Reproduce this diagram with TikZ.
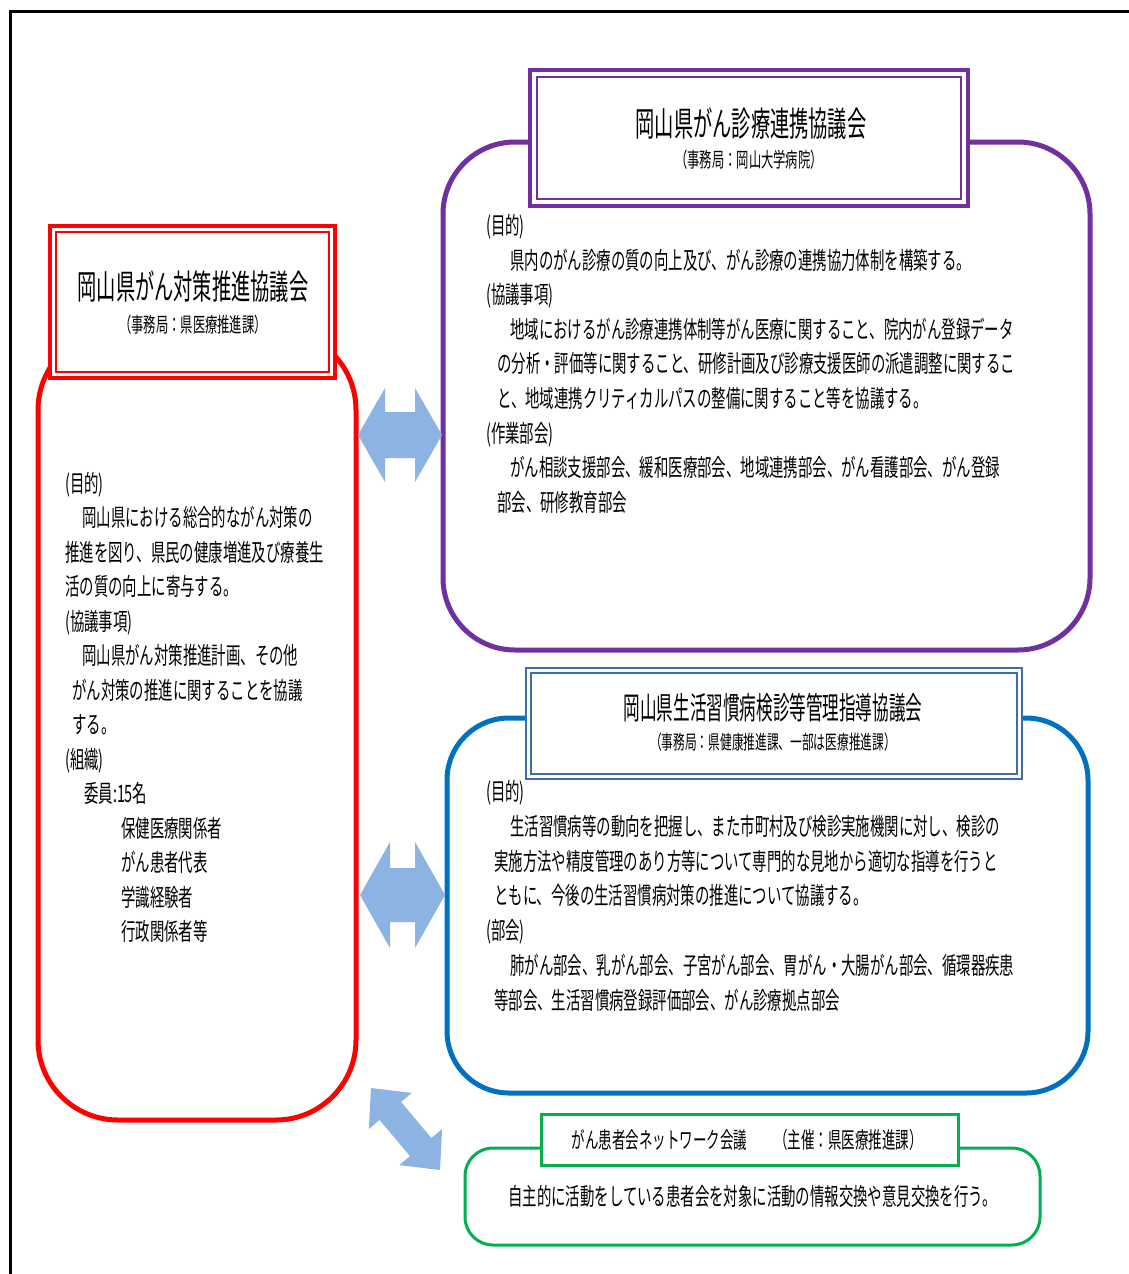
\documentclass[tikz,border=0pt]{standalone}
\usepackage{fontspec}
\usetikzlibrary{calc}
\newfontfamily\jbody[FakeStretch=0.6]{Noto Sans CJK JP}
\newfontfamily\jtitle[FakeStretch=0.566]{Noto Sans CJK JP}
\newfontfamily\jbtitle[FakeStretch=0.535]{Noto Sans CJK JP}
\definecolor{cred}{HTML}{FF0000}
\definecolor{cpurple}{HTML}{7030A0}
\definecolor{cblue}{HTML}{0070C0}
\definecolor{cbluehead}{HTML}{416BA9}
\definecolor{cgreen}{HTML}{00B050}
\definecolor{carrow}{HTML}{8DB3E2}
\newcommand\blockarrow[5]{%
 \fill[carrow] (#1) -- ($(#1)!#3!(#2)!#4!90:(#2)$) -- ($(#1)!#3!(#2)!#5!90:(#2)$)
  -- ($(#2)!#3!(#1)!#5!-90:(#1)$) -- ($(#2)!#3!(#1)!#4!-90:(#1)$) -- (#2)
  -- ($(#2)!#3!(#1)!#4!90:(#1)$) -- ($(#2)!#3!(#1)!#5!90:(#1)$)
  -- ($(#1)!#3!(#2)!#5!-90:(#2)$) -- ($(#1)!#3!(#2)!#4!-90:(#2)$) -- cycle;}
\tikzset{
 bodybox/.style={draw, line width=5pt, rounded corners=#1, inner sep=0pt, outer sep=0pt},
 headbox/.style={draw, fill=white, inner sep=0pt, outer sep=0pt},
 titletext/.style={inner sep=0pt, font=\jtitle\fontsize{34}{40}\selectfont},
 btitletext/.style={inner sep=0pt, font=\jbtitle\fontsize{31}{36}\selectfont},
 subtext/.style={inner sep=0pt, font=\jbody\fontsize{#1}{22}\selectfont},
 paratext/.style={inner sep=0pt, anchor=north west, align=left, font=\jbody\fontsize{24}{#1}\selectfont},
 onetext/.style={inner sep=0pt, font=\jbody\fontsize{24}{28}\selectfont},
}
\begin{document}
\begin{tikzpicture}[x=1pt,y=-1pt]
\useasboundingbox (0,0) rectangle (1129,1274);
\fill[white] (0,0) rectangle (1129,1274);
% outer frame
\draw[line width=3pt] (1129,11) -- (10,11) -- (10,1274);

% bodies
\node[bodybox=80pt, draw=cred, minimum width=318pt, minimum height=790pt] (redbody) at (197,725) {};
\node[bodybox=72pt, draw=cpurple, minimum width=647pt, minimum height=508pt] (purplebody) at (766.5,396) {};
\node[bodybox=62pt, draw=cblue, minimum width=641pt, minimum height=375pt] (bluebody) at (767.5,905.5) {};
\node[bodybox=28pt, draw=cgreen, line width=3pt, minimum width=575pt, minimum height=97pt] (greenbody) at (752.5,1196.5) {};

% headers
\node[headbox, draw=cred, line width=4pt, minimum width=285pt, minimum height=152pt] (redhead) at (192.5,302) {};
\draw[cred, line width=1.5pt] ([shift={(6,6)}]redhead.north west) rectangle ([shift={(-6,-6)}]redhead.south east);
\node[headbox, draw=cpurple, line width=4pt, minimum width=438pt, minimum height=136pt] (purplehead) at (749,138) {};
\draw[cpurple, line width=2pt] ([shift={(7,7)}]purplehead.north west) rectangle ([shift={(-7,-7)}]purplehead.south east);
\node[headbox, draw=cbluehead, line width=2.5pt, minimum width=496pt, minimum height=111pt] (bluehead) at (774,723.5) {};
\draw[cbluehead, line width=1.2pt] ([shift={(5,5)}]bluehead.north west) rectangle ([shift={(-5,-5)}]bluehead.south east);
\node[headbox, draw=cgreen, line width=3pt, minimum width=417pt, minimum height=51pt] (greenhead) at (749.5,1139.5) {};

% header texts
\node[titletext] (redtitle) at (193,287) {岡山県がん対策推進協議会};
\node[subtext=20.5] (redsub) at (193,325) {（事務局：県医療推進課）};
\node[titletext] (purpletitle) at (751,124) {岡山県がん診療連携協議会};
\node[subtext=20.5] (purplesub) at (749,160) {（事務局：岡山大学病院）};
\node[btitletext] (bluetitle) at (773,708) {岡山県生活習慣病検診等管理指導協議会};
\node[subtext=19.5] (bluesub) at (773,742) {（事務局：県健康推進課、一部は医療推進課）};
\node[inner sep=0pt, font=\jbody\fontsize{22.5}{26}\selectfont] (greentitle) at (747,1140) {がん患者会ネットワーク会議　　（主催：県医療推進課）};

% body texts
\node[paratext=34.5pt] (redtext) at (65,472) {(目的)\\
\hspace*{17pt}岡山県における総合的ながん対策の\\
推進を図り、県民の健康増進及び療養生\\
活の質の向上に寄与する。\\
(協議事項)\\
\hspace*{17pt}岡山県がん対策推進計画、その他\\
\hspace*{7pt}がん対策の推進に関することを協議\\
\hspace*{7pt}する。\\
(組織)\\
\hspace*{19pt}委員:15名\\
\hspace*{56pt}保健医療関係者\\
\hspace*{56pt}がん患者代表\\
\hspace*{56pt}学識経験者\\
\hspace*{56pt}行政関係者等};

\node[paratext=34.6pt] (purpletext) at (486,214) {(目的)\\
\hspace*{24pt}県内のがん診療の質の向上及び、がん診療の連携協力体制を構築する。\\
(協議事項)\\
\hspace*{24pt}地域におけるがん診療連携体制等がん医療に関すること、院内がん登録データ\\
\hspace*{11pt}の分析・評価等に関すること、研修計画及び診療支援医師の派遣調整に関するこ\\
\hspace*{11pt}と、地域連携クリティカルパスの整備に関すること等を協議する。\\
(作業部会)\\
\hspace*{24pt}がん相談支援部会、緩和医療部会、地域連携部会、がん看護部会、がん登録\\
\hspace*{11pt}部会、研修教育部会};

\node[paratext=34.8pt] (bluetext) at (486,780) {(目的)\\
\hspace*{24pt}生活習慣病等の動向を把握し、また市町村及び検診実施機関に対し、検診の\\
\hspace*{8pt}実施方法や精度管理のあり方等について専門的な見地から適切な指導を行うと\\
\hspace*{8pt}ともに、今後の生活習慣病対策の推進について協議する。\\
(部会)\\
\hspace*{24pt}肺がん部会、乳がん部会、子宮がん部会、胃がん・大腸がん部会、循環器疾患\\
\hspace*{8pt}等部会、生活習慣病登録評価部会、がん診療拠点部会};

\node[onetext] (greentext) at (752.5,1196) {自主的に活動をしている患者会を対象に活動の情報交換や意見交換を行う。};

% block arrows
\coordinate (a1l) at (358,435);
\coordinate (a1r) at (442,435);
\coordinate (a2l) at (360,895);
\coordinate (a2r) at (445,895);
\coordinate (a3a) at (371,1088);
\coordinate (a3b) at (440,1170);
\blockarrow{a1l}{a1r}{27pt}{47pt}{23pt}
\blockarrow{a2l}{a2r}{30pt}{53pt}{27pt}
\blockarrow{a3a}{a3b}{30pt}{28pt}{14pt}
\end{tikzpicture}
\end{document}
